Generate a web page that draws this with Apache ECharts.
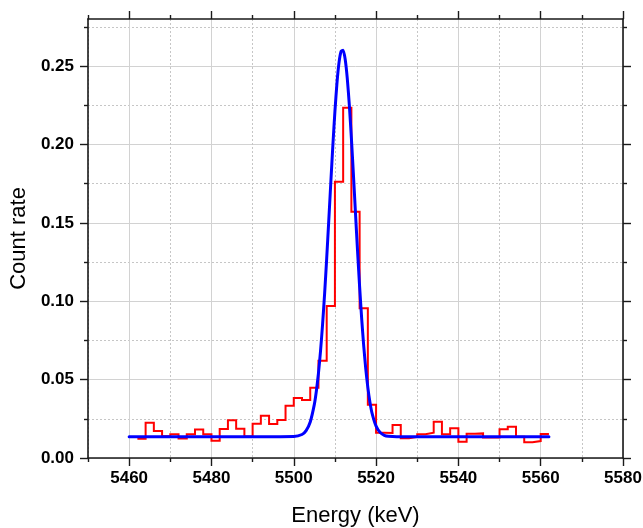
<!DOCTYPE html>
<html>
<head>
<meta charset="utf-8">
<script src="https://cdn.jsdelivr.net/npm/echarts@6/dist/echarts.min.js"></script>
<style>
  html, body { margin: 0; padding: 0; background: #ffffff; }
  #chart { width: 643px; height: 528px; }
</style>
</head>
<body>
<div id="chart"></div>
<script>
// Measured spectrum: count rate in 2 keV bins, first bin starts at 5462 keV
const BIN_START = 5462;
const BIN_WIDTH = 2;
const binRates = [
  0.0122, 0.0225, 0.0172, 0.0138, 0.0151, 0.0124, 0.0151, 0.0181, 0.0151, 0.0110,
  0.0185, 0.0240, 0.0187, 0.0137, 0.0219, 0.0269, 0.0217, 0.0242, 0.0333, 0.0383,
  0.0370, 0.0448, 0.0621, 0.0969, 0.1762, 0.2234, 0.1571, 0.0955, 0.0340, 0.0161,
  0.0159, 0.0210, 0.0126, 0.0134, 0.0151, 0.0161, 0.0232, 0.0151, 0.0189, 0.0104,
  0.0155, 0.0157, 0.0130, 0.0130, 0.0183, 0.0200, 0.0136, 0.0100, 0.0108, 0.0153
];

// Peak fit curve (energy in keV, count rate)
const fitEnergy = [
  5460, 5495, 5500, 5502, 5503, 5504, 5505, 5505.5, 5506, 5506.5,
  5507, 5507.5, 5508, 5508.5, 5509, 5509.5, 5510, 5510.5, 5511, 5511.5,
  5512, 5512.5, 5513, 5513.5, 5514, 5514.5, 5515, 5515.5, 5516, 5516.5,
  5517, 5517.5, 5518, 5518.5, 5519, 5520, 5521, 5522, 5523, 5525, 5562
];
const fitRate = [
  0.0136, 0.0136, 0.0137, 0.0150, 0.0175, 0.0230, 0.0342, 0.0429, 0.0541, 0.0682,
  0.0852, 0.1050, 0.1273, 0.1512, 0.1757, 0.1995, 0.2211, 0.2392, 0.2523, 0.2594,
  0.2601, 0.2542, 0.2422, 0.2251, 0.2040, 0.1805, 0.1560, 0.1319, 0.1093, 0.0889,
  0.0713, 0.0567, 0.0449, 0.0357, 0.0288, 0.0203, 0.0162, 0.0145, 0.0139, 0.0136, 0.0136
];

// Axis ranges and tick positions
const X_MIN = 5450, X_MAX = 5580;
const Y_MIN = 0, Y_MAX = 0.28;
const xMajorTicks = [5460, 5480, 5500, 5520, 5540, 5560, 5580];
const xMinorTicks = [5450, 5470, 5490, 5510, 5530, 5550, 5570];
const yMajorTicks = [0, 0.05, 0.10, 0.15, 0.20, 0.25];
const yMinorTicks = [0.025, 0.075, 0.125, 0.175, 0.225, 0.275];

const FRAME = '#1a1a1a';
const FONT = "'Liberation Sans', Arial, sans-serif";

// Histogram drawn as a stepped line through the bin edges
const histPoints = binRates.map((v, i) => [BIN_START + i * BIN_WIDTH, v]);
histPoints.push([BIN_START + binRates.length * BIN_WIDTH, binRates[binRates.length - 1]]);
const fitPoints = fitEnergy.map((e, i) => [e, fitRate[i]]);

function makeAxis(kind, position, ticks, tickLen, opts) {
  const isX = kind === 'x';
  const ax = {
    type: 'value',
    position: position,
    min: isX ? X_MIN : Y_MIN,
    max: isX ? X_MAX : Y_MAX,
    interval: isX ? 10 : 0.025,
    axisLine: { show: !!opts.line, onZero: false, lineStyle: { color: FRAME, width: 1.6 } },
    axisTick: {
      show: true, inside: false, length: tickLen, customValues: ticks,
      lineStyle: { color: FRAME, width: 1.4 }
    },
    axisLabel: { show: false },
    splitLine: { show: false },
    minorTick: { show: false },
    axisPointer: { show: false }
  };
  if (opts.labels) {
    ax.axisLabel = {
      show: true,
      customValues: ticks,
      margin: isX ? 12 : 14,
      color: '#000000',
      fontFamily: FONT,
      fontWeight: 'bold',
      fontSize: 17,
      hideOverlap: false,
      formatter: isX ? (v) => String(Math.round(v)) : (v) => v.toFixed(2)
    };
  }
  if (opts.grid) {
    ax.splitLine = {
      show: true,
      lineStyle: opts.grid === 'solid'
        ? { color: '#d2d2d2', width: 1, type: 'solid' }
        : { color: '#c6c6c6', width: 1, type: [2, 2] }
    };
  }
  if (opts.name) {
    ax.name = opts.name;
    ax.nameLocation = 'middle';
    ax.nameGap = opts.nameGap;
    ax.nameTextStyle = { fontFamily: FONT, fontSize: 22, color: '#000000' };
  }
  return ax;
}

const chart = echarts.init(document.getElementById('chart'), null, { renderer: 'canvas' });

chart.setOption({
  animation: false,
  backgroundColor: '#ffffff',
  grid: {
    left: 88, right: 20, top: 19, bottom: 70,
    containLabel: false, outerBoundsMode: 'none', show: false
  },
  xAxis: [
    makeAxis('x', 'bottom', xMajorTicks, 8, { line: true, labels: true, grid: 'solid', name: 'Energy (keV)', nameGap: 47 }),
    makeAxis('x', 'bottom', xMinorTicks, 4, { grid: 'dotted' }),
    makeAxis('x', 'top', xMajorTicks, 8, { line: true }),
    makeAxis('x', 'top', xMinorTicks, 4, {})
  ],
  yAxis: [
    makeAxis('y', 'left', yMajorTicks, 8, { line: true, labels: true, grid: 'solid', name: 'Count rate', nameGap: 56 }),
    makeAxis('y', 'left', yMinorTicks, 4, { grid: 'dotted' }),
    makeAxis('y', 'right', yMajorTicks, 8, { line: true }),
    makeAxis('y', 'right', yMinorTicks, 4, {})
  ],
  series: [
    {
      name: 'Measured',
      type: 'line',
      xAxisIndex: 0,
      yAxisIndex: 0,
      data: histPoints,
      step: 'end',
      showSymbol: false,
      symbol: 'none',
      lineStyle: { color: '#ff0000', width: 2, join: 'miter' },
      z: 3
    },
    {
      name: 'Fit',
      type: 'line',
      xAxisIndex: 0,
      yAxisIndex: 0,
      data: fitPoints,
      smooth: 0.2,
      showSymbol: false,
      symbol: 'none',
      lineStyle: { color: '#0000ff', width: 3, join: 'round', cap: 'round' },
      z: 4
    }
  ]
});
</script>
</body>
</html>
